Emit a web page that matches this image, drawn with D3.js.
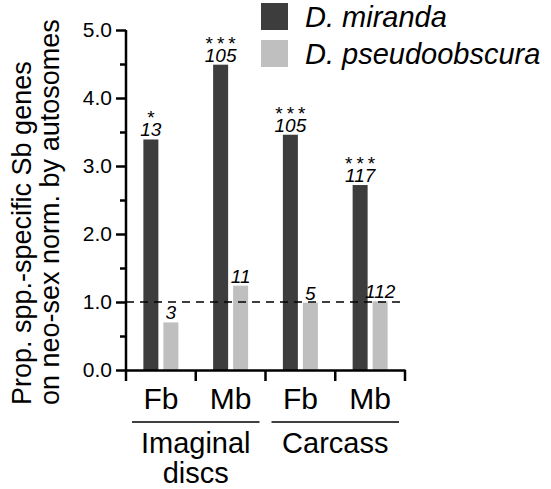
<!DOCTYPE html>
<html>
<head>
<meta charset="utf-8">
<script src="https://cdn.jsdelivr.net/npm/d3@7"></script>
<style>
  body { margin: 0; background: #fff; }
  svg text { font-family: "Liberation Sans", Arial, sans-serif; fill: #000; }
</style>
</head>
<body>
<div id="graphic"></div>
<script>
// data
const groups = ['Imaginal discs', 'Carcass'];
const categories = ['Fb', 'Mb', 'Fb', 'Mb'];
const series = ['D. miranda', 'D. pseudoobscura'];
const mirandaValues = [3.39, 4.49, 3.46, 2.72];
const pseudoValues = [0.70, 1.24, 0.99, 1.01];
const mirandaCounts = ['13', '105', '105', '117'];
const pseudoCounts = ['3', '11', '5', '112'];
const mirandaStars = ['*', '***', '***', '***'];
const yTicks = [0, 1, 2, 3, 4, 5];
const yMinorTicks = [0.5, 1.5, 2.5, 3.5, 4.5];

const colours = ['#3d3d3d', '#bfbfbf'];
const width = 551, height = 489;
const margin = { top: 30, left: 126, right: 146, bottom: 119 };
const chartWidth = width - margin.left - margin.right;
const chartHeight = height - margin.top - margin.bottom;

const svg = d3.select('#graphic').append('svg')
  .attr('width', width).attr('height', height);
const g = svg.append('g').attr('transform', `translate(${margin.left},${margin.top})`);

const x = d3.scaleBand().domain(d3.range(categories.length)).range([0, chartWidth]).padding(0);
const y = d3.scaleLinear().domain([0, 5]).range([chartHeight, 0]);

const barW = 15, barGap = 5;
const bars = categories.map((c, i) => ({ i, values: [mirandaValues[i], pseudoValues[i]], counts: [mirandaCounts[i], pseudoCounts[i]] }));
const barX = (i, s) => x(i) + x.bandwidth() / 2 + (s === 0 ? -barGap / 2 - barW : barGap / 2);

// bars
bars.forEach(b => {
  b.values.forEach((v, s) => {
    g.append('rect')
      .attr('x', barX(b.i, s))
      .attr('y', y(v))
      .attr('width', barW)
      .attr('height', y(0) - y(v))
      .attr('fill', colours[s]);
    g.append('text')
      .attr('x', barX(b.i, s) + barW / 2)
      .attr('y', y(v) - 3)
      .attr('text-anchor', 'middle')
      .style('font-size', '19px')
      .style('font-style', 'italic')
      .text(b.counts[s]);
  });
  // significance stars
  g.append('text')
    .attr('x', barX(b.i, 0) + barW / 2 + 2)
    .attr('y', y(b.values[0]) - 3 - 12)
    .attr('text-anchor', 'middle')
    .style('font-size', '19px')
    .style('letter-spacing', '4px')
    .text(mirandaStars[b.i]);
});

// reference line at 1
g.append('line')
  .attr('x1', 0).attr('x2', chartWidth)
  .attr('y1', y(1)).attr('y2', y(1))
  .attr('stroke', '#000').attr('stroke-width', 1.6)
  .attr('stroke-dasharray', '8,6');

// y axis
const yAxis = g.append('g').call(d3.axisLeft(y).tickValues(yTicks).tickFormat(d3.format('.1f')).tickSize(10).tickPadding(4));
yAxis.call(a => a.select('.domain').attr('d', `M0,${y(0)}V${y(5)}`));
yAxis.selectAll('text').style('font-size', '21px');
g.append('g').call(d3.axisLeft(y).tickValues(yMinorTicks).tickFormat('').tickSize(6))
  .call(a => a.select('.domain').remove());

// x axis
const xAxis = g.append('g').attr('transform', `translate(0,${chartHeight})`)
  .call(d3.axisBottom(x).tickSize(0).tickPadding(18).tickFormat(i => categories[i]));
xAxis.selectAll('text').style('font-size', '30px');
xAxis.selectAll('.tick line').remove();
xAxis.selectAll('.bnd').data(d3.range(categories.length + 1)).join('line')
  .attr('x1', i => i * x.bandwidth()).attr('x2', i => i * x.bandwidth())
  .attr('y1', 0).attr('y2', 11).attr('stroke', '#000');

g.selectAll('.domain, .tick line').attr('stroke-width', 2.5).attr('stroke', '#000');
xAxis.selectAll('line').attr('stroke-width', 2.5).attr('stroke', '#000');

// group labels
groups.forEach((name, gi) => {
  const x0 = x(gi * 2), x1 = x(gi * 2 + 1) + x.bandwidth();
  const cx = (x0 + x1) / 2;
  g.append('line')
    .attr('x1', x0 + 6).attr('x2', x1 - 6)
    .attr('y1', chartHeight + 52).attr('y2', chartHeight + 52)
    .attr('stroke', '#000').attr('stroke-width', 1.6);
  const t = g.append('text')
    .attr('x', cx).attr('y', chartHeight + 83)
    .attr('text-anchor', 'middle')
    .style('font-size', '29px');
  name.split(' ').forEach((w, k) => {
    t.append('tspan').attr('x', cx).attr('dy', k === 0 ? 0 : 30).text(w);
  });
});

// y axis label
const yl = svg.append('text')
  .attr('transform', 'translate(0,405) rotate(-90)')
  .style('font-size', '27px');
yl.append('tspan').attr('x', 0).attr('y', 31).text('Prop. spp.-specific Sb genes');
yl.append('tspan').attr('x', 0).attr('y', 59).text('on neo-sex norm. by autosomes');

// legend
const legend = svg.append('g').attr('transform', 'translate(261,3)');
series.forEach((s, i) => {
  legend.append('rect')
    .attr('x', 0).attr('y', i * 37)
    .attr('width', 27).attr('height', 27)
    .attr('fill', colours[i]);
  legend.append('text')
    .attr('x', 44).attr('y', i * 37 + 24)
    .style('font-size', '29px')
    .style('font-style', 'italic')
    .text(s);
});
</script>
</body>
</html>
